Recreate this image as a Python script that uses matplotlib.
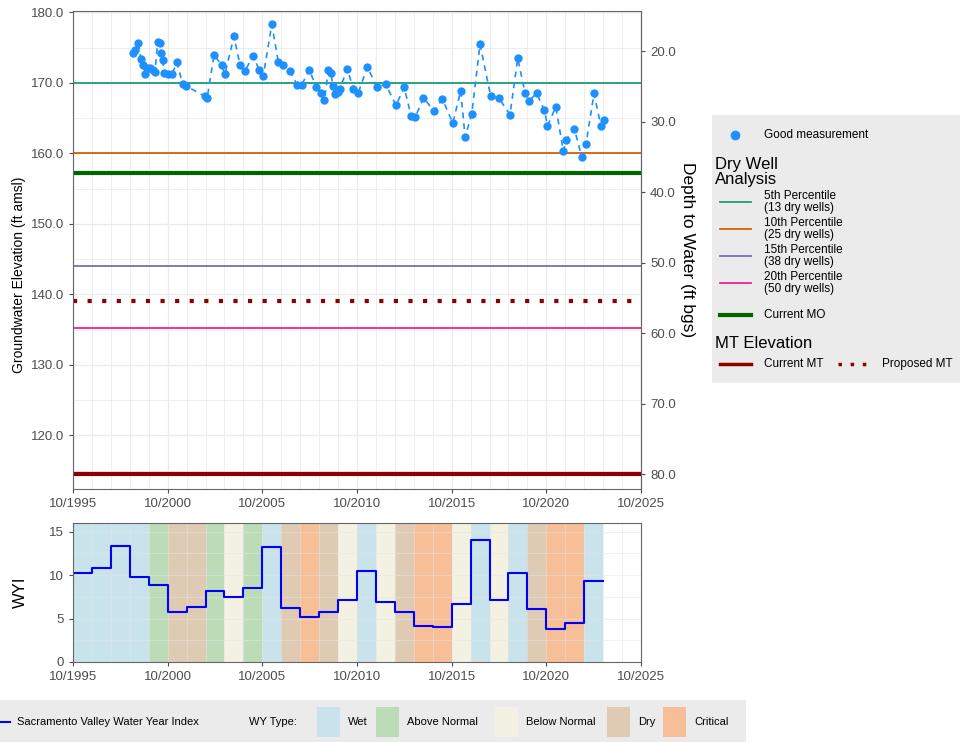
import numpy as np
import matplotlib.pyplot as plt
from matplotlib.lines import Line2D
from matplotlib.patches import Rectangle

plt.rcParams['font.family'] = ['Liberation Sans', 'DejaVu Sans']

W, H = 966, 742

# groundwater measurements (decimal year, ft amsl)
meas_year = [1998.90, 1999.03, 1999.20, 1999.34, 1999.46, 1999.55, 1999.67, 1999.82, 1999.96, 2000.08,
             2000.22, 2000.35, 2000.38, 2000.49, 2000.57, 2000.78, 2000.99, 2001.23, 2001.54, 2001.70,
             2002.72, 2002.84, 2003.20, 2003.60, 2003.78, 2004.25, 2004.57, 2004.84, 2005.24, 2005.59,
             2005.80, 2006.25, 2006.60, 2006.83, 2007.21, 2007.60, 2007.83, 2008.23, 2008.59, 2008.83,
             2009.03, 2009.24, 2009.38, 2009.47, 2009.59, 2009.73, 2009.85, 2010.24, 2010.56, 2010.82,
             2011.30, 2011.79, 2012.27, 2012.81, 2013.24, 2013.61, 2013.82, 2014.26, 2014.82, 2015.26,
             2015.81, 2016.23, 2016.46, 2016.81, 2017.25, 2017.81, 2018.25, 2018.83, 2019.24, 2019.63,
             2019.84, 2020.24, 2020.65, 2020.81, 2021.25, 2021.65, 2021.79, 2022.23, 2022.62, 2022.84,
             2023.27, 2023.63, 2023.82]
meas_elev = [174.3, 174.7, 175.6, 173.4, 172.5, 171.3, 172.1, 172.1, 171.9, 171.5,
             175.8, 175.7, 174.2, 173.2, 171.4, 171.3, 171.3, 172.9, 169.9, 169.6,
             168.1, 167.9, 174.0, 172.5, 171.3, 176.6, 172.6, 171.7, 173.8, 171.9,
             171.0, 178.3, 172.9, 172.5, 171.7, 169.7, 169.7, 171.9, 169.4, 168.5,
             167.6, 171.8, 171.4, 169.6, 168.4, 168.7, 169.2, 172.0, 169.1, 168.6,
             172.3, 169.4, 169.8, 166.8, 169.4, 165.3, 165.1, 167.9, 166.0, 167.7,
             164.3, 168.9, 162.3, 165.6, 175.5, 168.1, 167.8, 165.5, 173.5, 168.5,
             167.5, 168.5, 166.1, 163.9, 166.6, 160.3, 161.9, 163.5, 159.5, 161.3,
             168.5, 163.9, 164.8]

gse = 194.5  # ground surface, for depth axis

# dry well percentiles and thresholds (ft amsl)
pct_labels = ['5th Percentile\n(13 dry wells)', '10th Percentile\n(25 dry wells)',
              '15th Percentile\n(38 dry wells)', '20th Percentile\n(50 dry wells)']
pct_elev = [170.0, 160.0, 144.1, 135.2]
pct_colors = ['#1B9E77', '#D95F02', '#7570B3', '#E7298A']
current_mo = 157.2
current_mt = 114.5
proposed_mt = 139.1

# Sacramento Valley water year index
water_year = list(range(1996, 2024))
wyi = [10.3, 10.8, 13.3, 9.8, 8.9, 5.8, 6.35, 8.2, 7.5, 8.5,
       13.2, 6.2, 5.2, 5.8, 7.1, 10.5, 6.9, 5.8, 4.1, 4.0,
       6.7, 14.1, 7.1, 10.3, 6.1, 3.8, 4.5, 9.3]
wy_type = ['W', 'W', 'W', 'W', 'AN', 'D', 'D', 'AN', 'BN', 'AN',
           'W', 'D', 'C', 'D', 'BN', 'W', 'BN', 'D', 'C', 'C',
           'BN', 'W', 'BN', 'W', 'D', 'C', 'C', 'W']
type_names = ['Wet', 'Above Normal', 'Below Normal', 'Dry', 'Critical']
type_keys = ['W', 'AN', 'BN', 'D', 'C']
type_colors = ['#C8E3EC', '#BCDCB8', '#F3F2E2', '#DFCBB4', '#F6BF97']
type_col = dict(zip(type_keys, type_colors))

xticks = np.arange(1995.75, 2026, 5)
xlabels = ['10/%d' % int(x) for x in xticks]
tick_col = '#4D4D4D'
grid_col = '#EBEBEB'
frame_col = '#666666'


def px(x, y):
    return x / W, 1 - y / H


def style(ax):
    ax.grid(which='major', color=grid_col, lw=0.9)
    ax.grid(which='minor', color=grid_col, lw=0.6)
    ax.set_axisbelow(True)
    for s in ax.spines.values():
        s.set_color(frame_col)
        s.set_linewidth(0.8)
    ax.tick_params(which='major', colors=tick_col, labelsize=9.5, length=3, width=0.8)
    ax.tick_params(which='minor', length=0)


fig = plt.figure(figsize=(W / 100, H / 100), dpi=100)

# main panel
ax = fig.add_axes([73 / W, 1 - 489 / H, 568 / W, 478 / H])
for e, c in zip(pct_elev, pct_colors):
    ax.axhline(e, color=c, lw=1.3)
ax.axhline(current_mo, color='#006400', lw=3)
ax.axhline(current_mt, color='#8B0000', lw=3)
ax.axhline(proposed_mt, color='#8B0000', lw=3, ls=(0, (1, 2.5)))
ax.plot(meas_year, meas_elev, color='#1E90FF', ls=(0, (3.5, 3)), lw=1.2)
ax.plot(meas_year, meas_elev, 'o', color='#1E90FF', ms=6, mec='none')
ax.set_xlim(1995.75, 2025.75)
ax.set_ylim(112.4, 180.2)
ax.set_xticks(xticks)
ax.set_xticklabels(xlabels)
ax.set_xticks(np.arange(1995.75, 2026, 1), minor=True)
ax.set_yticks(np.arange(120, 181, 10))
ax.set_yticklabels(['%.1f' % v for v in np.arange(120, 181, 10)])
ax.set_yticks(np.arange(115, 181, 10), minor=True)
style(ax)
ax.set_ylabel('Groundwater Elevation (ft amsl)', fontsize=10)
ax.yaxis.set_label_coords((26 - 73) / 568, 1 - (275 - 11) / 478)

sec = ax.secondary_yaxis('right', functions=(lambda e: gse - e, lambda d: gse - d))
sec.set_yticks(np.arange(20, 81, 10))
sec.set_yticklabels(['%.1f' % v for v in np.arange(20, 81, 10)])
sec.tick_params(colors=tick_col, labelsize=9.5, length=3, width=0.8)
sec.spines['right'].set_color(frame_col)
sec.set_ylabel('Depth to Water (ft bgs)', fontsize=12.5, rotation=270, labelpad=14)

# WYI panel
bx = fig.add_axes([73 / W, 1 - 662 / H, 568 / W, 139 / H])
for wy, t in zip(water_year, wy_type):
    bx.axvspan(wy - 0.25, wy + 0.75, color=type_col[t], lw=0, zorder=0.1)
step_x = [wy - 0.25 for wy in water_year] + [water_year[-1] + 0.75]
bx.step(step_x, wyi + [wyi[-1]], where='post', color='#0000FF', lw=1.5)
bx.set_xlim(1995.75, 2025.75)
bx.set_ylim(0, 16)
bx.set_xticks(xticks)
bx.set_xticklabels(xlabels)
bx.set_xticks(np.arange(1995.75, 2026, 1), minor=True)
bx.set_yticks([0, 5, 10, 15])
bx.set_yticks([2.5, 7.5, 12.5], minor=True)
style(bx)
bx.grid(which='both', color='#E4E4E4', lw=0.6, alpha=0.6)
bx.set_ylabel('WYI', fontsize=12)
bx.yaxis.set_label_coords((27.5 - 73) / 568, 0.5)

# right legend
fig.add_artist(Rectangle(px(712, 383), 248 / W, 268 / H, transform=fig.transFigure,
                         facecolor='#EBEBEB', edgecolor='none'))
fig.add_artist(Line2D(*zip(px(735, 135)), marker='o', color='#1E90FF', ms=6,
                      transform=fig.transFigure))
fig.text(*px(764, 135), 'Good measurement', fontsize=8.5, va='center')
fig.text(*px(715, 172), 'Dry Well\nAnalysis', fontsize=12, va='center', linespacing=0.95)
for i, (lab, c) in enumerate(zip(pct_labels, pct_colors)):
    yy = 202 + i * 27
    fig.add_artist(Line2D(*zip(px(720, yy), px(751, yy)), color=c, lw=1.3,
                          transform=fig.transFigure))
    fig.text(*px(764, yy), lab, fontsize=8.5, va='center', linespacing=0.95)
fig.add_artist(Line2D(*zip(px(720, 315), px(751, 315)), color='#006400', lw=3,
                      transform=fig.transFigure))
fig.text(*px(764, 315), 'Current MO', fontsize=8.5, va='center')
fig.text(*px(715, 343), 'MT Elevation', fontsize=12, va='center')
fig.add_artist(Line2D(*zip(px(720, 364), px(751, 364)), color='#8B0000', lw=2.5,
                      transform=fig.transFigure))
fig.text(*px(764, 364), 'Current MT', fontsize=8.5, va='center')
fig.add_artist(Line2D(*zip(px(838, 364), px(866, 364)), color='#8B0000', lw=2.5,
                      ls=(0, (1, 2.5)), transform=fig.transFigure))
fig.text(*px(882, 364), 'Proposed MT', fontsize=8.5, va='center')

# bottom legend
fig.add_artist(Rectangle(px(0, 742), 746 / W, 42 / H, transform=fig.transFigure,
                         facecolor='#EBEBEB', edgecolor='none'))
fig.add_artist(Line2D(*zip(px(0, 722), px(10, 722)), color='#0000FF', lw=1.5,
                      transform=fig.transFigure))
fig.text(*px(17, 722), 'Sacramento Valley Water Year Index', fontsize=8, va='center')
fig.text(*px(249, 722), 'WY Type:', fontsize=8, va='center')
patch_x = [317, 376, 495, 607, 663]
for x0, name, c in zip(patch_x, type_names, type_colors):
    fig.add_artist(Rectangle(px(x0, 737), 23 / W, 30 / H, transform=fig.transFigure,
                             facecolor=c, edgecolor='none'))
    fig.text(*px(x0 + 31, 722), name, fontsize=8, va='center')

fig.savefig('out.png', dpi=100)
